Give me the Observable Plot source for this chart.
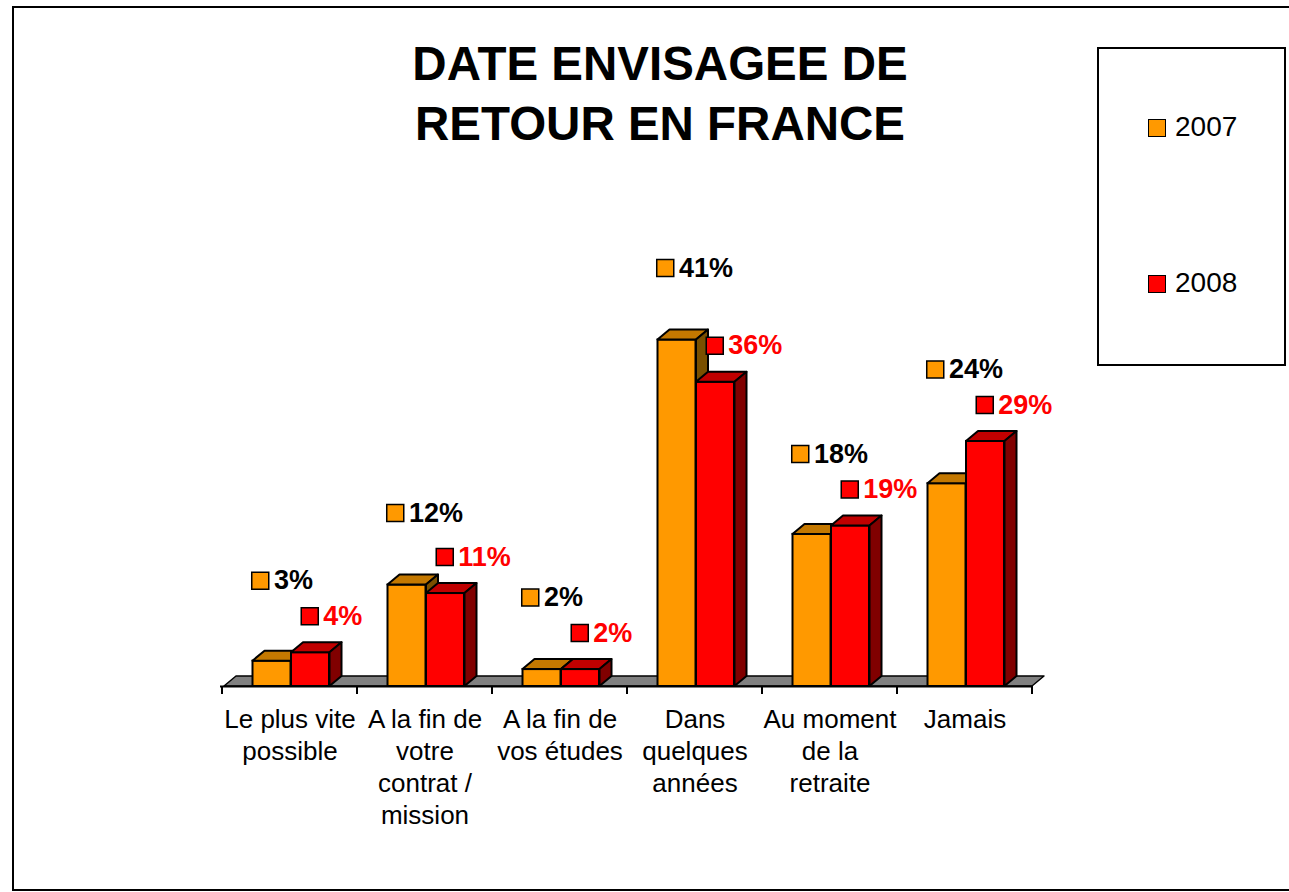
<!DOCTYPE html>
<html>
<head>
<meta charset="utf-8">
<script src="https://cdn.jsdelivr.net/npm/d3@7"></script>
<script src="https://cdn.jsdelivr.net/npm/@observablehq/plot@0.6"></script>
<style>
  html, body { margin: 0; padding: 0; background: #fff; }
  body { font-family: "Liberation Sans", Arial, sans-serif; }
  #wrap { position: relative; width: 1289px; height: 892px; overflow: hidden; background: #fff; }
  #frame { position: absolute; left: 12px; top: 6px; width: 1320px; height: 885px; border: 2px solid #000; box-sizing: border-box; }
  #chart { position: absolute; left: 0; top: 0; }
  #title { position: absolute; left: 360px; top: 33.5px; width: 600px; text-align: center; font-weight: bold; font-size: 47.5px; line-height: 60px; color: #000; }
  #legend { position: absolute; left: 1097px; top: 47px; width: 189px; height: 319px; border: 2px solid #000; box-sizing: border-box; background: #fff; }
  .li { position: absolute; left: 1148px; font-size: 28px; line-height: 28px; color: #000; white-space: nowrap; }
  .sw { position: absolute; width: 18px; height: 18px; border: 1.5px solid #000; box-sizing: border-box; }
</style>
</head>
<body>
<div id="wrap">
  <div id="frame"></div>
  <div id="chart"></div>
  <div id="title"></div>
  <div id="legend"></div>
</div>
<script>
// ---------- data ----------
const titleLines = ["DATE ENVISAGEE DE", "RETOUR EN FRANCE"];
const categories = [
  "Le plus vite possible",
  "A la fin de votre contrat / mission",
  "A la fin de vos études",
  "Dans quelques années",
  "Au moment de la retraite",
  "Jamais"
];
const tickLabels = [
  "Le plus vite\npossible",
  "A la fin de\nvotre\ncontrat /\nmission",
  "A la fin de\nvos études",
  "Dans\nquelques\nannées",
  "Au moment\nde la\nretraite",
  "Jamais"
];
const series = ["2007", "2008"];
const values2007 = [3, 12, 2, 41, 18, 24];
const values2008 = [4, 11, 2, 36, 19, 29];

// ---------- styles ----------
const frontColors = ["#FF9900", "#FF0000"];
const topColors = ["#C47800", "#C00000"];
const sideColors = ["#7A5000", "#800000"];
const labelColors = ["#000000", "#FF0000"];

// ---------- layout ----------
const W = 1289, H = 892;
const ML = 220, MR = 256, MT = 263.5, MB = 206;
const BAND = (W - ML - MR) / categories.length;
const BAR_W = 38.5;
const BAR_LEFT = [30.5, 69];           // from band start
const DEPTH = {dx: 12, dy: -10};
const LABEL_BOX_DX = [-29.75, 19.75];  // from band centre
const LABEL_TEXT_DX = [-16, 33.25];
const LABEL_DY = [-72, -36.5];

const allValues = [values2007, values2008];
const rows = series.flatMap((s, si) =>
  categories.map((c, ci) => ({
    category: c, series: s, si, value: allValues[si][ci],
    groupMax: Math.max(values2007[ci], values2008[ci])
  }))
);
const rowsOf = si => rows.filter(r => r.si === si);
// 2007 labels sit above the taller bar of the pair, 2008 labels above their own bar
const labelAnchor = si => (si === 0 ? d => d.groupMax : d => d.value);

// floor + axis ticks
function floorMark(index, scales) {
  const {x, y} = scales;
  const bw = x.bandwidth();
  const x0 = x(categories[0]);
  const x1 = x(categories[categories.length - 1]) + bw;
  const yb = y(0);
  const g = d3.create("svg:g");
  g.append("path")
    .attr("fill", "#808080").attr("stroke", "#000").attr("stroke-width", 1.5).attr("stroke-linejoin", "round")
    .attr("d", `M${x0 + 2},${yb}L${x0 + 2 + DEPTH.dx},${yb + DEPTH.dy}L${x1 + DEPTH.dx},${yb + DEPTH.dy}L${x1},${yb}Z`);
  return g.node();
}
function tickMark(index, scales) {
  const {x, y} = scales;
  const bw = x.bandwidth();
  const yb = y(0);
  const bounds = categories.map(c => x(c)).concat([x(categories[categories.length - 1]) + bw]);
  const g = d3.create("svg:g").attr("stroke", "#000").attr("stroke-width", 2);
  bounds.forEach(b => g.append("path").attr("d", `M${b},${yb}V${yb + 8}`));
  return g.node();
}
function facesMark(si) {
  return (index, scales) => {
    const {x, y} = scales;
    const g = d3.create("svg:g").attr("stroke", "#000").attr("stroke-width", 2).attr("stroke-linejoin", "round");
    const {dx, dy} = DEPTH;
    rowsOf(si).forEach(r => {
      const x0 = x(r.category) + BAR_LEFT[si], x1 = x0 + BAR_W;
      const yt = y(r.value), yb = y(0);
      g.append("path").attr("fill", topColors[si])
        .attr("d", `M${x0},${yt}L${x0 + dx},${yt + dy}L${x1 + dx},${yt + dy}L${x1},${yt}Z`);
      g.append("path").attr("fill", sideColors[si])
        .attr("d", `M${x1},${yt}L${x1 + dx},${yt + dy}L${x1 + dx},${yb + dy}L${x1},${yb}Z`);
    });
    return g.node();
  };
}

const marks = [floorMark, Plot.ruleY([0], {stroke: "#000", strokeWidth: 2}), tickMark];
series.forEach((s, si) => {
  marks.push(Plot.barY(rowsOf(si), {
    x: "category", y: "value", fill: frontColors[si], stroke: "#000", strokeWidth: 2,
    insetLeft: BAR_LEFT[si], insetRight: BAND - BAR_LEFT[si] - BAR_W
  }));
  marks.push(facesMark(si));
});
series.forEach((s, si) => {
  marks.push(Plot.dot(rowsOf(si), {
    x: "category", y: labelAnchor(si), symbol: "square", r: 9.6,
    fill: frontColors[si], stroke: "#000", strokeWidth: 1.5,
    dx: LABEL_BOX_DX[si], dy: LABEL_DY[si]
  }));
  marks.push(Plot.text(rowsOf(si), {
    x: "category", y: labelAnchor(si), text: d => d.value + "%",
    textAnchor: "start", fontWeight: "bold", fontSize: 27, fill: labelColors[si],
    dx: LABEL_TEXT_DX[si], dy: LABEL_DY[si]
  }));
});
marks.push(Plot.axisX({
  tickSize: 0, tickPadding: 18.5, fontSize: 26, lineHeight: 1.23, label: null,
  tickFormat: d => tickLabels[categories.indexOf(d)], fill: "#000"
}));

const plot = Plot.plot({
  width: W, height: H,
  marginLeft: ML, marginRight: MR, marginTop: MT, marginBottom: MB,
  style: {fontFamily: "'Liberation Sans', Arial, sans-serif", background: "transparent", overflow: "visible"},
  x: {type: "band", domain: categories, padding: 0},
  y: {domain: [0, 50], axis: null},
  marks
});
document.getElementById("chart").appendChild(plot);

// title
document.getElementById("title").innerHTML = titleLines.join("<br>");

// legend
const legendTops = [113, 269];
const wrap = document.getElementById("wrap");
series.forEach((s, si) => {
  const sw = document.createElement("div");
  sw.className = "sw";
  sw.style.left = "1148px";
  sw.style.top = (legendTops[si] + 6) + "px";
  sw.style.background = frontColors[si];
  wrap.appendChild(sw);
  const t = document.createElement("div");
  t.className = "li";
  t.style.left = "1175px";
  t.style.top = legendTops[si] + "px";
  t.textContent = s;
  wrap.appendChild(t);
});
</script>
</body>
</html>
